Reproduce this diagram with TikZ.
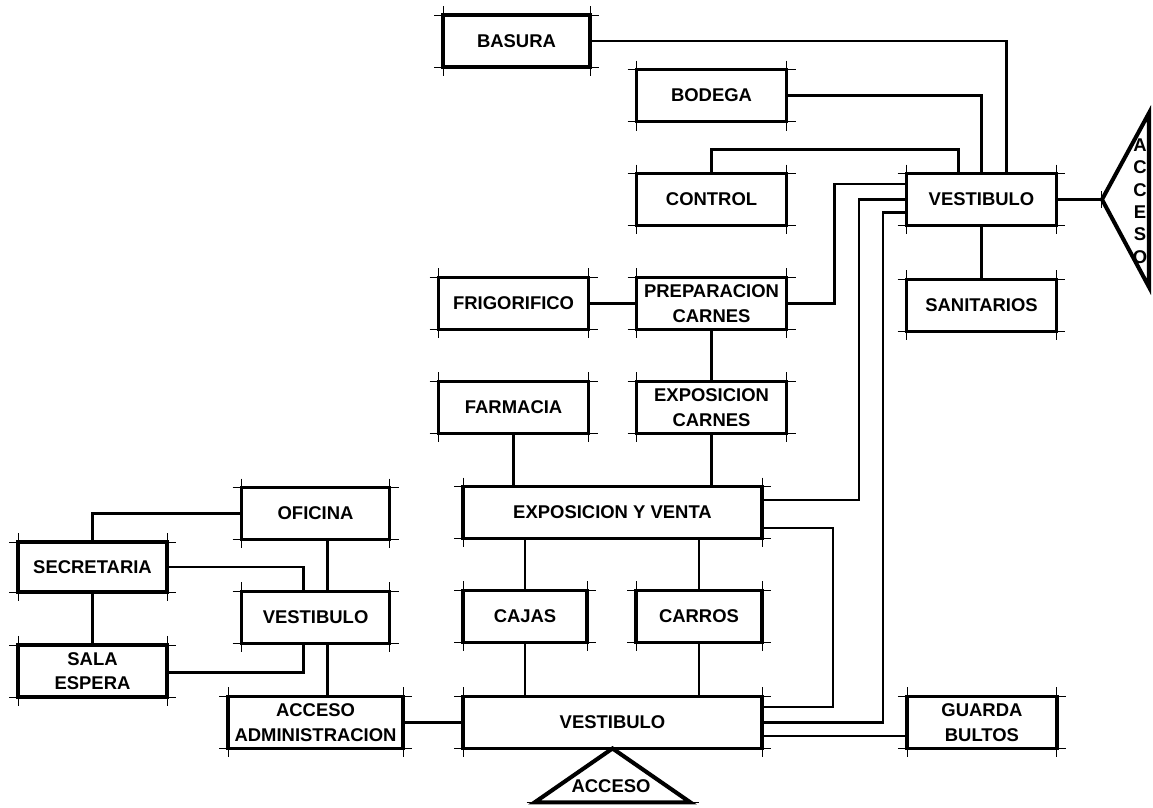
\documentclass[tikz,border=0pt]{standalone}
\usepackage{fontspec}
\setmainfont{Liberation Sans}
\usetikzlibrary{positioning,arrows.meta}

\begin{document}
\begin{tikzpicture}[x=0.02cm, y=-0.02cm,
  room/.style={draw, line width=1.9pt, minimum width=3cm, minimum height=1.04cm,
    inner sep=0pt, outer sep=0pt, align=center,
    font=\bfseries\fontsize{10.5}{14}\selectfont},
  wide/.style={minimum width=5.98cm},
  link/.style={line width=1.3pt},
  tick/.style={line width=0.5pt},
  door/.style={line width=2.3pt, line join=miter}]
\useasboundingbox (0,0) rectangle (1153,808);

% servicio
\node[room] (vesta) at (981.5,199.5) {VESTIBULO};
\node[room, left=2.4cm of vesta] (control) {CONTROL};
\node[room, above=1.04cm of control] (bodega) {BODEGA};
\node[room, minimum width=2.94cm] (basura) at (516.5,41) {BASURA};
\node[room, below=1.08cm of vesta] (sanit) {SANITARIOS};
\node[room, below=1.04cm of control] (prep) {PREPARACION\\CARNES};
\node[room, left=0.96cm of prep] (frigo) {FRIGORIFICO};
\node[room, below=1.04cm of prep] (expc) {EXPOSICION\\CARNES};
\node[room, left=0.96cm of expc] (farm) {FARMACIA};

% ventas
\node[room, wide] (expventa) at (612.5,512.5) {EXPOSICION Y VENTA};
\node[room, minimum width=2.48cm, below right=1.04cm and 0cm of expventa.south west] (cajas) {CAJAS};
\node[room, minimum width=2.52cm, below left=1.04cm and 0cm of expventa.south east] (carros) {CARROS};
\node[room, wide, below=3.16cm of expventa] (vestb) {VESTIBULO};
\node[room, right=2.9cm of vestb] (guarda) {GUARDA\\BULTOS};

% administracion
\node[room, minimum width=3.5cm, left=1.2cm of vestb] (accadm) {ACCESO\\ADMINISTRACION};
\node[room, minimum width=2.96cm, above=1.06cm of accadm] (vestl) {VESTIBULO};
\node[room, minimum width=2.96cm, above=1.04cm of vestl] (oficina) {OFICINA};
\node[room, minimum width=2.98cm, minimum height=1.0cm] (secre) at (92.5,567) {SECRETARIA};
\node[room, minimum width=2.98cm, below=1.06cm of secre] (sala) {SALA\\ESPERA};

% prolongaciones de esquinas
\foreach \r in {basura,bodega,control,vesta,sanit,frigo,prep,farm,expc,expventa,
                cajas,carros,vestb,guarda,accadm,vestl,oficina,secre,sala} {
  \draw[tick] ([xshift=-0.18cm]\r.north west) -- ([xshift=0.18cm]\r.north east);
  \draw[tick] ([xshift=-0.18cm]\r.south west) -- ([xshift=0.18cm]\r.south east);
  \draw[tick] ([yshift=0.18cm]\r.north west) -- ([yshift=-0.18cm]\r.south west);
  \draw[tick] ([yshift=0.18cm]\r.north east) -- ([yshift=-0.18cm]\r.south east);
}

% accesos
\coordinate (apex) at (1102,199.5);
\draw[door] (apex) -- (1149,113) -- (1149,287) -- cycle;
\node[font=\bfseries\fontsize{10.5}{12.8}\selectfont, align=center, inner sep=0pt] (accder) at (1140,201) {A\\C\\C\\E\\S\\O};
\draw[door] (vestb.south) -- ++(-78,54) -- ++(156,0) -- cycle;
\draw[tick] ([xshift=-1.72cm,yshift=-1.08cm]vestb.south) -- ([xshift=1.74cm,yshift=-1.08cm]vestb.south);
\node[font=\bfseries\fontsize{10.5}{14}\selectfont, inner sep=0pt] (accbajo) at (611,786) {ACCESO};

% conexiones
\draw[link] (basura.east) -| ([xshift=0.5cm]vesta.north);
\draw[link] (bodega.east) -| (vesta.north);
\draw[link] (control.north) -- ++(0,-24) -| ([xshift=-0.46cm]vesta.north);
\draw[link] (prep.east) -- ++(48,0) |- ([yshift=0.31cm]vesta.west);
\draw[link] ([yshift=0.25cm]expventa.east) -- ++(97,0) |- (vesta.west);
\draw[link] (vestb.east) -- ++(121,0) |- ([yshift=-0.26cm]vesta.west);
\draw[link] ([yshift=-0.31cm]expventa.east) -- ++(71,0) |- ([yshift=0.31cm]vestb.east);
\draw[link] ([yshift=-0.27cm]vestb.east) -- ([yshift=-0.27cm]guarda.west);
\draw[link, -{Bar[width=0.34cm,line width=0.8pt]}] (vesta.east) -- (apex);
\draw[link] (vesta) -- (sanit);
\draw[link] (frigo) -- (prep);
\draw[link] (prep) -- (expc);
\draw[link] (farm.south) -- (farm.south |- expventa.north);
\draw[link] (expc.south) -- (expc.south |- expventa.north);
\draw[link] (cajas.north) -- (cajas.north |- expventa.south);
\draw[link] (cajas.south) -- (cajas.south |- vestb.north);
\draw[link] (carros.north) -- (carros.north |- expventa.south);
\draw[link] (carros.south) -- (carros.south |- vestb.north);
\draw[link] (accadm.east) -- (accadm.east -| vestb.west);
\draw[link] (oficina.west) -| (secre.north);
\draw[link] (secre.east) -| ([xshift=-0.24cm]vestl.north);
\draw[link] ([xshift=0.24cm]oficina.south) -- ([xshift=0.24cm]vestl.north);
\draw[link] (secre) -- (sala);
\draw[link] ([yshift=-0.03cm]sala.east) -| ([xshift=-0.24cm]vestl.south);
\draw[link] ([xshift=0.24cm]vestl.south) -- ([xshift=0.24cm]vestl.south |- accadm.north);
\end{tikzpicture}
\end{document}
